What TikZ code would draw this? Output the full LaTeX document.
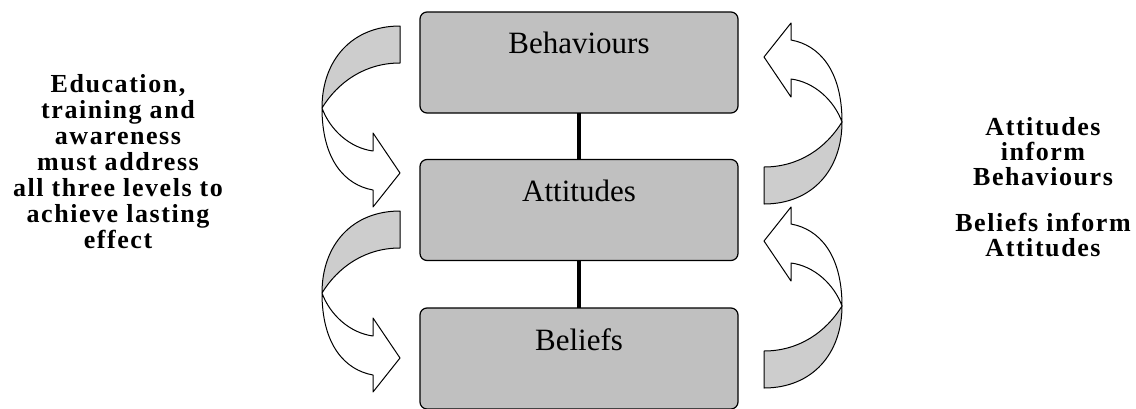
\documentclass[tikz,border=0pt]{standalone}
\usepackage{fontspec}
\setmainfont{Liberation Serif}
\newfontfamily\sidefont[LetterSpace=6]{Liberation Serif}
\definecolor{boxgray}{HTML}{C0C0C0}
\definecolor{arrgray}{HTML}{CDCDCD}
\tikzset{
  levelbox/.style={draw=black, line width=1.2pt, fill=boxgray, rounded corners=7pt,
    minimum width=318pt, minimum height=101pt, inner sep=0pt, outer sep=0pt},
  boxlabel/.style={anchor=base, inner sep=0pt, font=\fontsize{31}{36}\selectfont},
  sidetext/.style={anchor=base, inner sep=0pt, font=\sidefont\bfseries\fontsize{26}{26}\selectfont},
  righttext/.style={anchor=base, inner sep=0pt, font=\sidefont\bfseries\fontsize{26}{24}\selectfont},
  link/.style={line width=3.5pt},
  arrowline/.style={draw=black, line width=1pt, line join=round},
  curvedarrow/.pic={
    \draw[arrowline, fill=white] (-78,82) .. controls (-70,104) and (-50,122) .. (-27,125)
      -- (-27,107) -- (0,147) -- (-27,181) -- (-27,164)
      .. controls (-55,159) and (-78,134) .. (-78,82) -- cycle;
    \draw[arrowline, fill=arrgray] (0,0) .. controls (-48,0) and (-78,34) .. (-78,82)
      .. controls (-62,56) and (-35,37) .. (0,37) -- cycle;
  }
}
\begin{document}
\begin{tikzpicture}[x=1pt, y=-1pt]
\useasboundingbox (0,0) rectangle (1136,408);
% boxes
\node[levelbox] (beh) at (579,62.5) {};
\node[levelbox] (att) at (579,210) {};
\node[levelbox] (bel) at (579,358.5) {};
\node[boxlabel] (behl) at ([yshift=-41pt]beh.north) {Behaviours};
\node[boxlabel] (attl) at ([yshift=-42pt]att.north) {Attitudes};
\node[boxlabel] (bell) at ([yshift=-42pt]bel.north) {Beliefs};
% connectors
\draw[link] (beh) -- (att);
\draw[link] (att) -- (bel);
% curved arrows
\pic at (400,26) {curvedarrow};
\pic at (400,211) {curvedarrow};
\pic[rotate=180] at (764,204) {curvedarrow};
\pic[rotate=180] at (764,388) {curvedarrow};
% side texts
\node[sidetext] (lefttxt) at (118,92) {\begin{tabular}[t]{@{}c@{}}Education,\\ training and\\ awareness\\ must address\\ all three levels to\\ achieve lasting\\ effect\end{tabular}};
\node[righttext] (righttxt) at (1043,135) {\begin{tabular}[t]{@{}c@{}}Attitudes\\ inform\\ Behaviours\\[20pt] Beliefs inform\\ Attitudes\end{tabular}};
\end{tikzpicture}
\end{document}
